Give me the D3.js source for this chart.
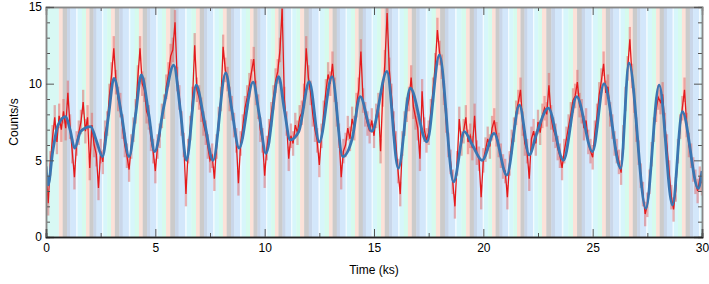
<!DOCTYPE html>
<head>
  <meta charset="utf-8">
  <script src="https://d3js.org/d3.v7.min.js"></script>
  <style>
    body { margin:0; background:#fff; }
    text { font-family: "Liberation Sans", Arial, sans-serif; }
  </style>
</head>

<body>
  <script>
    // light curve, 0.1 ks bins (counts/s)
    var binSize = 0.1;
    var rate = [
      4.5, 2.2, 4.8, 6.5, 7.8, 6.2, 7.9, 7.0, 8.2, 7.1,
      9.4, 7.2, 5.6, 3.9, 6.1, 6.8, 7.5, 8.8, 6.9, 7.8,
      4.5, 7.3, 6.0, 5.4, 3.2, 5.6, 4.9, 6.8, 7.4, 9.2,
      10.6, 12.3, 10.1, 9.0, 8.6, 7.2, 6.0, 5.3, 4.4, 5.9,
      7.0, 8.2, 10.4, 12.3, 10.0, 9.6, 8.2, 7.8, 6.4, 5.6,
      4.3, 5.9, 6.6, 7.9, 8.5, 9.8, 10.6, 11.8, 12.2, 14.0,
      10.3, 9.1, 7.4, 6.0, 2.8, 5.6, 7.1, 9.0, 12.5, 9.6,
      9.1, 8.3, 7.4, 6.8, 5.9, 5.0, 5.3, 3.8, 5.9, 7.7,
      9.0, 12.4, 10.9, 10.3, 9.0, 8.4, 7.3, 6.3, 3.5, 6.1,
      7.2, 8.4, 9.1, 9.9, 10.8, 11.6, 9.4, 8.5, 7.0, 6.3,
      4.0, 5.8, 6.9, 8.0, 9.1, 10.2, 10.8, 12.2, 14.9, 9.0,
      7.4, 5.1, 6.6, 6.1, 7.3, 6.8, 7.8, 8.1, 9.2, 12.3,
      10.4, 9.4, 8.0, 7.0, 6.3, 4.7, 6.6, 8.1, 9.5, 10.6,
      10.0, 11.3, 9.6, 8.0, 6.6, 3.9, 5.6, 6.0, 7.1, 6.4,
      7.7, 7.1, 8.6, 9.6, 12.1, 8.9, 8.0, 7.4, 6.9, 7.6,
      6.6, 7.9, 8.6, 5.6, 9.3, 11.4, 14.6, 10.9, 9.2, 7.4,
      6.1, 4.3, 2.8, 6.1, 7.4, 8.3, 9.0, 10.4, 8.5, 7.8,
      7.1, 5.1, 9.5, 7.0, 6.3, 6.8, 8.2, 9.6, 11.2, 13.5,
      12.0, 11.1, 9.4, 7.6, 6.0, 4.9, 3.6, 2.0, 4.8, 7.7,
      6.1, 6.9, 7.8, 6.2, 6.6, 5.8, 7.9, 5.5, 5.1, 2.6,
      5.0, 5.7, 6.4, 5.9, 7.1, 7.6, 6.7, 6.0, 5.3, 4.6,
      4.3, 2.6, 4.8, 6.2, 7.0, 8.1, 8.8, 9.6, 7.4, 6.1,
      5.6, 3.8, 6.4, 6.9, 6.1, 7.5, 6.8, 7.9, 8.4, 8.0,
      9.9, 7.8, 7.0, 6.6, 5.8, 5.3, 4.5, 5.6, 6.4, 7.2,
      8.0, 8.9, 9.2, 10.1, 8.6, 8.2, 7.1, 7.6, 6.2, 5.6,
      5.2, 6.8, 7.9, 9.3, 10.2, 11.3, 9.4, 9.8, 8.0, 7.2,
      6.1, 5.6, 4.9, 4.2, 6.5, 9.0, 11.0, 12.9, 10.5, 8.9,
      7.0, 5.5, 4.0, 2.8, 1.5, 2.1, 3.6, 5.4, 7.0, 8.3,
      9.1, 8.8, 9.3, 7.3, 5.9, 4.2, 2.6, 1.8, 3.1, 5.6,
      7.2, 8.4, 9.6, 7.3, 6.0, 5.3, 4.4, 3.6, 3.0, 3.8,
      3.5
    ];
    var rateErr = 0.8;

    // smoothed model curve
    var modelT = [0, 0.1, 0.3, 0.55, 0.9, 1.1, 1.31, 1.59, 2.04, 2.3, 2.58, 2.85, 3.11, 3.45, 3.8,
      4.1, 4.36, 4.7, 4.97, 5.4, 5.84, 6.15, 6.42, 6.87, 7.25, 7.64, 8.22, 8.5, 8.83, 9.47,
      9.75, 10.06, 10.64, 10.9, 11.17, 11.56, 12.04, 12.5, 13.08, 13.57, 14.0, 14.37, 14.9,
      15.59, 16.11, 16.66, 17.42, 17.99, 18.64, 19.13, 19.5, 19.95, 20.49, 21.07, 21.65, 22.1,
      22.44, 22.97, 23.66, 24.27, 24.99, 25.52, 26.28, 26.66, 27.43, 28.04, 28.65, 29.1, 29.83, 30];
    var modelV = [4.6, 3.4, 5.5, 7.3, 7.85, 7.0, 5.8, 6.9, 7.2, 6.3, 5.24, 7.8, 10.35, 8.0, 5.24,
      8.0, 10.57, 8.0, 5.57, 8.6, 11.2, 8.2, 5.0, 9.9, 7.5, 5.0, 10.7, 8.3, 5.8, 10.1,
      8.0, 5.46, 10.46, 8.3, 6.33, 6.87, 10.13, 6.2, 10.46, 5.24, 6.4, 9.15, 6.9,
      10.8, 4.48, 9.7, 6.2, 11.87, 3.6, 6.87, 6.0, 5.0, 6.76, 4.04, 8.6, 5.35,
      6.76, 8.4, 5.0, 9.15, 5.57, 10.0, 4.48, 11.33, 1.87, 9.9, 2.09, 8.17, 3.17, 4.3];

    // background: start of each cycle (ks) and phase bins within a cycle
    var cycleStarts = [0.59, 1.83, 2.97, 4.25, 5.49, 6.86, 8.09, 9.33, 10.47, 11.62, 12.94, 14.13,
      15.32, 16.55, 17.83, 19.21, 20.40, 21.54, 22.68, 24.10, 25.43, 26.66, 27.90, 29.08];
    var phaseEdges = [0, 0.14, 0.3, 0.42, 0.64, 0.69, 0.85, 1];
    var phaseKeys = ["pink", "grey", "steel", "blue", "white", "cyan", "mint"];

    var xTicks = [0, 5, 10, 15, 20, 25, 30];
    var xMinor = [2.5, 7.5, 12.5, 17.5, 22.5, 27.5];
    var yTicks = [0, 5, 10, 15];
    var yMinor = [1, 2, 3, 4, 6, 7, 8, 9, 11, 12, 13, 14];

    var margin = {top: 7, right: 7, bottom: 47, left: 46};
    var width = 709 - margin.left - margin.right,
        height = 284 - margin.top - margin.bottom;

    var svg = d3.select("body").append("svg")
      .attr("width", 709)
      .attr("height", 284)
      .append("g")
      .attr("transform", "translate(" + margin.left + "," + margin.top + ")");

    var x = d3.scaleLinear().domain([0, 30]).range([0, width]);
    var y = d3.scaleLinear().domain([0, 15]).range([height, 0]);

    var bandColor = d3.scaleOrdinal()
      .domain(["pink", "grey", "steel", "blue", "white", "cyan", "mint"])
      .range(["#fce2d9", "#cbcbcb", "#c9d6e9", "#d3e7fb", "#f3fbff", "#d7f6fb", "#d6fbed"]);

    svg.append("clipPath").attr("id", "plot")
      .append("rect").attr("width", width).attr("height", height);

    var bg = svg.append("g").attr("clip-path", "url(#plot)");

    // before the first cycle
    bg.append("rect")
      .attr("x", 0).attr("y", 0)
      .attr("width", x(cycleStarts[0]))
      .attr("height", height)
      .attr("fill", "#d8f8f4");

    var stripes = [];
    cycleStarts.forEach(function(t0, i) {
      var t1 = i < cycleStarts.length - 1 ? cycleStarts[i + 1] : 30.3;
      phaseKeys.forEach(function(k, j) {
        stripes.push({
          a: t0 + (t1 - t0) * phaseEdges[j],
          b: t0 + (t1 - t0) * phaseEdges[j + 1],
          key: k
        });
      });
    });

    bg.selectAll(".stripe")
      .data(stripes)
      .enter().append("rect")
      .attr("class", "stripe")
      .attr("x", function(d) { return x(d.a); })
      .attr("y", 0)
      .attr("width", function(d) { return x(d.b) - x(d.a) + 0.3; })
      .attr("height", height)
      .attr("fill", function(d) { return bandColor(d.key); });

    var pts = rate.map(function(v, i) { return {t: i * binSize, v: v}; });

    var plot = svg.append("g").attr("clip-path", "url(#plot)");

    // error bars
    plot.selectAll(".err")
      .data(pts)
      .enter().append("line")
      .attr("class", "err")
      .attr("x1", function(d) { return x(d.t); })
      .attr("x2", function(d) { return x(d.t); })
      .attr("y1", function(d) { return y(d.v - rateErr); })
      .attr("y2", function(d) { return y(d.v + rateErr); })
      .attr("stroke", "#e26464")
      .attr("stroke-opacity", 0.5)
      .attr("stroke-width", 2.3);

    var line = d3.line()
      .x(function(d) { return x(d.t); })
      .y(function(d) { return y(d.v); });

    plot.append("path")
      .datum(pts)
      .attr("d", line)
      .attr("fill", "none")
      .attr("stroke", "#e41a1c")
      .attr("stroke-width", 1.3);

    var model = modelT.map(function(t, i) { return {t: t, v: modelV[i]}; });

    plot.append("path")
      .datum(model)
      .attr("d", line.curve(d3.curveMonotoneX))
      .attr("fill", "none")
      .attr("stroke", "#3a76b2")
      .attr("stroke-width", 2.8);

    // axes, ticks pointing in
    function styleAxis(g, col) {
      g.select(".domain").attr("stroke", col).attr("stroke-width", 1.5);
      g.selectAll(".tick line").attr("stroke", "#555");
      g.selectAll("text").attr("font-size", 12).attr("fill", "#000")
        .style("font-family", "Liberation Sans, Arial, sans-serif");
    }

    svg.append("g").call(d3.axisTop(x).tickValues(xMinor).tickSize(-4).tickFormat(""))
      .call(styleAxis, "#888");
    svg.append("g").call(d3.axisTop(x).tickValues(xTicks).tickSize(-8).tickFormat(""))
      .call(styleAxis, "#888");

    svg.append("g").attr("transform", "translate(" + width + ",0)")
      .call(d3.axisRight(y).tickValues(yMinor).tickSize(-4).tickFormat(""))
      .call(styleAxis, "#888");
    svg.append("g").attr("transform", "translate(" + width + ",0)")
      .call(d3.axisRight(y).tickValues(yTicks).tickSize(-8).tickFormat(""))
      .call(styleAxis, "#888");

    svg.append("g").call(d3.axisLeft(y).tickValues(yMinor).tickSize(-4).tickFormat(""))
      .call(styleAxis, "#888");
    svg.append("g").call(d3.axisLeft(y).tickValues(yTicks).tickSize(-8).tickPadding(4).tickFormat(d3.format("d")))
      .call(styleAxis, "#888");

    svg.append("g").attr("transform", "translate(0," + height + ")")
      .call(d3.axisBottom(x).tickValues(xMinor).tickSize(-4).tickFormat(""))
      .call(styleAxis, "#222");
    svg.append("g").attr("transform", "translate(0," + height + ")")
      .call(d3.axisBottom(x).tickValues(xTicks).tickSize(-8).tickPadding(6).tickFormat(d3.format("d")))
      .call(styleAxis, "#222");

    svg.append("text")
      .attr("x", width / 2)
      .attr("y", height + 37)
      .attr("text-anchor", "middle")
      .attr("font-size", 12)
      .text("Time (ks)");

    svg.append("text")
      .attr("transform", "translate(-28," + (height / 2) + ") rotate(-90)")
      .attr("text-anchor", "middle")
      .attr("font-size", 12)
      .text("Counts/s");
  </script>
</body>
